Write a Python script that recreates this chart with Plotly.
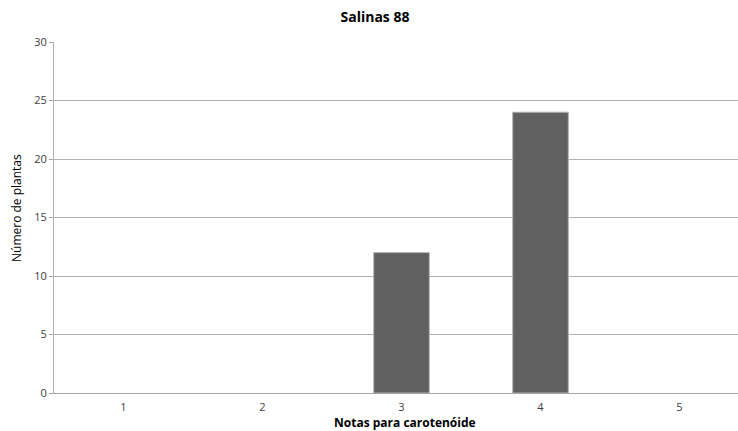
import plotly.graph_objects as go

# Distribution of carotenoid scores for Salinas 88
notas = [1, 2, 3, 4, 5]
num_plantas = [0, 0, 12, 24, 0]
y_ticks = [0, 5, 10, 15, 20, 25, 30]

W, H = 738, 431
L, R, T, B = 54, 0, 42, 38
plot_w = W - L - R
plot_h = H - T - B

# empty categories get no outline so nothing is drawn for them
outline_w = [1 if v > 0 else 0 for v in num_plantas]

fig = go.Figure()
fig.add_trace(go.Bar(
    x=notas,
    y=num_plantas,
    width=0.4,
    marker=dict(color="#606060", line=dict(color="#b4b4b4", width=outline_w)),
    showlegend=False,
))

font_family = "Open Sans, Liberation Sans, sans-serif"

fig.update_layout(
    width=W,
    height=H,
    margin=dict(l=L, r=R, t=T, b=B),
    paper_bgcolor="white",
    plot_bgcolor="white",
    font=dict(family=font_family, color="#404040", size=11),
    title=dict(
        text="<b>Salinas 88</b>",
        font=dict(family=font_family, size=14, color="#000000"),
        xref="container", x=375 / W, xanchor="center",
        yref="container", y=1 - 17 / H, yanchor="middle",
    ),
    bargap=0.6,
)

fig.update_xaxes(
    range=[0.5, 0.5 + (W - L) / 139.0],
    tickmode="array",
    tickvals=notas,
    ticktext=[str(n) for n in notas],
    showgrid=False,
    showline=True,
    linecolor="#a6a6a6",
    linewidth=1,
    ticks="",
    ticklabelstandoff=4,
    tickfont=dict(size=11, color="#404040"),
    zeroline=False,
)

fig.update_yaxes(
    range=[0, 30],
    tickmode="array",
    tickvals=y_ticks,
    showgrid=True,
    gridcolor="#b0b0b0",
    gridwidth=1,
    showline=True,
    linecolor="#b0b0b0",
    linewidth=1,
    ticks="outside",
    ticklen=4,
    tickcolor="#a6a6a6",
    tickfont=dict(size=11, color="#404040"),
    zeroline=False,
)

# Axis titles placed as annotations
fig.add_annotation(
    text="<b>Notas para carotenóide</b>",
    xref="paper", x=(405 - L) / plot_w, xanchor="center",
    yref="paper", y=-(412 - (H - B)) / plot_h, yanchor="top",
    showarrow=False,
    font=dict(family=font_family, size=12, color="#000000"),
)
fig.add_annotation(
    text="Número de plantas",
    xref="paper", x=(17 - L) / plot_w, xanchor="center",
    yref="paper", y=(H - B - 208) / plot_h, yanchor="middle",
    textangle=-90,
    showarrow=False,
    font=dict(family=font_family, size=12, color="#000000"),
)

fig.write_html("out.html")
